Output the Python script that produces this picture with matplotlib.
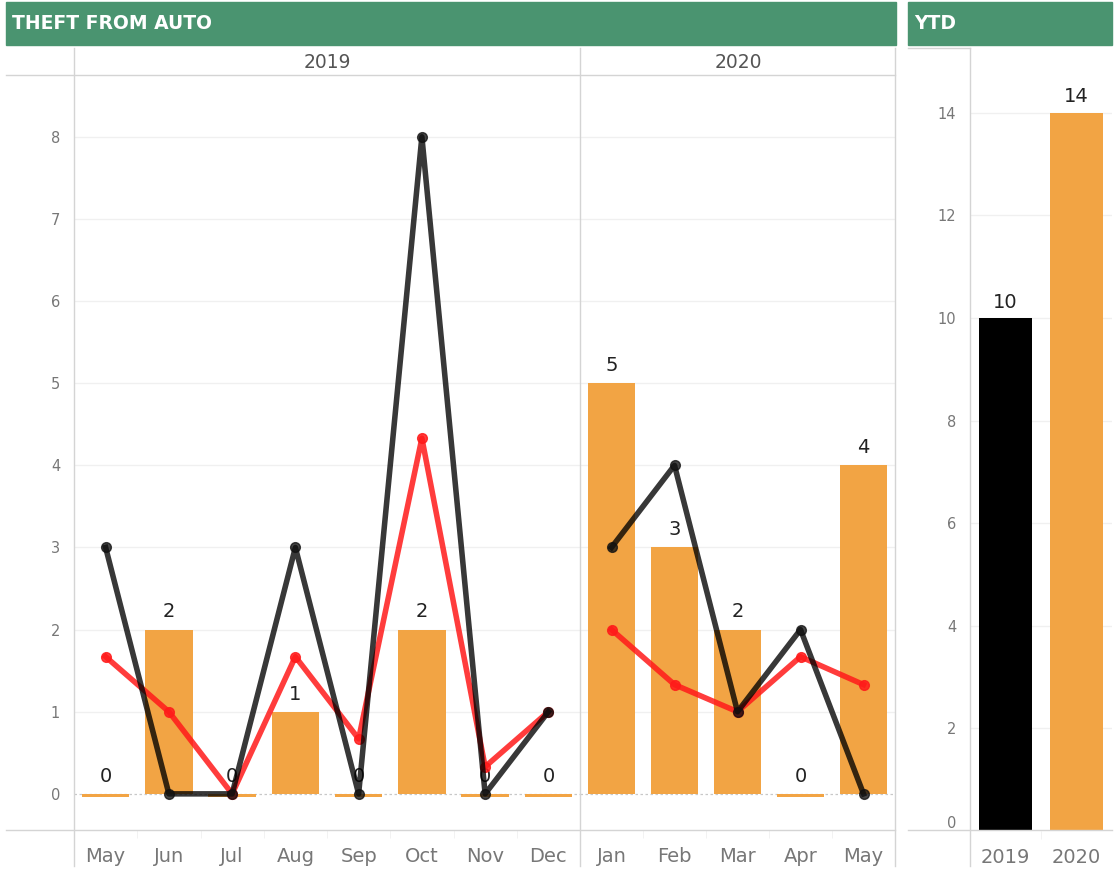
import numpy as np
import matplotlib
matplotlib.use("Agg")
import matplotlib.pyplot as plt
from matplotlib.lines import Line2D

# data
months_2019 = ["May", "Jun", "Jul", "Aug", "Sep", "Oct", "Nov", "Dec"]
months_2020 = ["Jan", "Feb", "Mar", "Apr", "May"]
bars_2019 = [0, 2, 0, 1, 0, 2, 0, 0]
bars_2020 = [5, 3, 2, 0, 4]
prev_2019 = [3, 0, 0, 3, 0, 8, 0, 1]
prev_2020 = [3, 4, 1, 2, 0]
avg_2019 = [1.67, 1.0, 0.0, 1.67, 0.67, 4.33, 0.33, 1.0]
avg_2020 = [2.0, 1.33, 1.0, 1.67, 1.33]
ytd_years = ["2019", "2020"]
ytd_values = [10, 14]

W, H = 1120, 869
ORANGE = "#f2a444"
GREEN = "#4a9470"
GRID = "#f0f0f0"
AXLINE = "#d4d4d4"
TICKC = "#777777"

fig = plt.figure(figsize=(W / 100, H / 100), dpi=100)


def box(x0, y0, x1, y1):
    return [x0 / W, 1 - y1 / H, (x1 - x0) / W, (y1 - y0) / H]


def hline(x0, x1, y, color=AXLINE, lw=1.0):
    fig.add_artist(Line2D([x0 / W, x1 / W], [1 - y / H, 1 - y / H], color=color, lw=lw))


def vline(x, y0, y1, color=AXLINE, lw=1.0):
    fig.add_artist(Line2D([x / W, x / W], [1 - y0 / H, 1 - y1 / H], color=color, lw=lw))


# title bars
for x0, x1, txt in [(6, 896, "THEFT FROM AUTO"), (908, 1112, "YTD")]:
    fig.patches.append(plt.Rectangle((x0 / W, 1 - 45 / H), (x1 - x0) / W, 43 / H,
                                     transform=fig.transFigure, color=GREEN))
    fig.text((x0 + 6) / W, 1 - 23.5 / H, txt, color="white", fontsize=13.5,
             fontweight="bold", va="center", ha="left")

# year headers
fig.text(327 / W, 1 - 62 / H, "2019", color="#555555", fontsize=13.5, ha="center", va="center")
fig.text(738 / W, 1 - 62 / H, "2020", color="#555555", fontsize=13.5, ha="center", va="center")


def panel(rect, labels, bars, prev, avg, show_y):
    ax = fig.add_axes(rect)
    x = np.arange(len(labels))
    b = np.array(bars, dtype=float)
    heights = np.where(b == 0, 0.035, b)
    bottoms = np.where(b == 0, -0.035, 0)
    ax.set_ylim(-0.44, 8.74)
    ax.set_xlim(-0.5, len(labels) - 0.5)
    for v in range(1, 9):
        ax.axhline(v, color=GRID, lw=1, zorder=0)
    ax.axhline(0, color="#c8c8c8", lw=0.9, ls=(0, (2, 2)), zorder=0)
    ax.bar(x, heights, bottom=bottoms, width=0.75, color=ORANGE, zorder=1)
    for xi, v in zip(x, bars):
        ax.text(xi, v + 0.1, str(v), ha="center", va="bottom", fontsize=14,
                color="#222222", zorder=2)
    ax.plot(x, avg, color="#ff1a1a", alpha=0.85, lw=4, marker="o", ms=7, zorder=3)
    ax.plot(x, prev, color="black", alpha=0.78, lw=4, marker="o", ms=7,
            mfc="#111111", mec="#111111", zorder=4)
    for s in ax.spines.values():
        s.set_visible(False)
    ax.set_xticks(x)
    ax.set_xticklabels(labels, fontsize=14, color=TICKC)
    ax.tick_params(axis="x", length=0, pad=12)
    ax.set_xticks(np.arange(len(labels) - 1) + 0.5, minor=True)
    ax.tick_params(axis="x", which="minor", length=6, color=GRID)
    if show_y:
        ax.set_yticks(range(0, 9))
        ax.tick_params(axis="y", length=0, pad=10, labelsize=10.5, labelcolor=TICKC)
    else:
        ax.set_yticks([])
    return ax


panel(box(74, 76, 580, 830), months_2019, bars_2019, prev_2019, avg_2019, True)
panel(box(580, 76, 895, 830), months_2020, bars_2020, prev_2020, avg_2020, False)

# ytd panel
ax3 = fig.add_axes(box(970, 48, 1112, 831))
xy = np.arange(len(ytd_years))
ax3.set_ylim(0, 15.26)
ax3.set_xlim(-0.5, 1.5)
for v in range(2, 16, 2):
    ax3.axhline(v, color=GRID, lw=1, zorder=0)
ax3.bar(xy, ytd_values, width=0.75, color=["black", ORANGE], zorder=1)
for xi, v in zip(xy, ytd_values):
    ax3.text(xi, v + 0.12, str(v), ha="center", va="bottom", fontsize=14, color="#222222")
for s in ax3.spines.values():
    s.set_visible(False)
ax3.set_yticks(range(0, 16, 2))
ax3.tick_params(axis="y", length=0, pad=10, labelsize=10.5, labelcolor=TICKC)
ax3.get_yticklabels()[0].set_va("bottom")
ax3.set_xticks(xy)
ax3.set_xticklabels(ytd_years, fontsize=14, color=TICKC)
ax3.tick_params(axis="x", length=0, pad=12)
ax3.set_xticks([0.5], minor=True)
ax3.tick_params(axis="x", which="minor", length=6, color=GRID)

# frame lines
hline(6, 895, 75)
hline(6, 895, 830)
vline(74, 48, 866)
vline(580, 48, 866)
vline(895, 48, 866)
hline(908, 970, 48)
vline(970, 48, 866)
hline(908, 1112, 830)

fig.savefig("out.png", dpi=100)
